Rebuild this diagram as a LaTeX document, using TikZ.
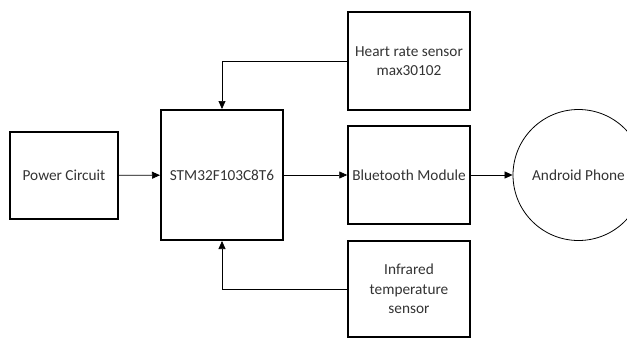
\documentclass[tikz,border=0pt]{standalone}
\usepackage{fontspec}
\setmainfont{Carlito}
\usetikzlibrary{arrows.meta}

\begin{document}
\begin{tikzpicture}
[
	x=1pt, y=1pt,
	block/.style={draw,line width=1.5pt,inner sep=0pt,align=center,text=black!80},
	mcu/.style={block,line width=2pt},
	phone/.style={circle,draw,line width=0.8pt,inner sep=0pt,minimum size=131pt,text=black!80},
	link/.style={line width=0.7pt,-{Triangle[length=8pt,width=7pt]}},
	every node/.style={font=\fontsize{15.3}{19.5}\selectfont}
]
	\useasboundingbox (0,0) rectangle (627,-338);

	% blocks
	\node[block,minimum width=108pt,minimum height=87pt] (power) at (64,-175.5) {Power Circuit};
	\node[mcu,minimum width=122pt,minimum height=130pt] (stm) at (222,-175) {STM32F103C8T6};
	\node[block,minimum width=122pt,minimum height=98pt] (heart) at (409,-61) {Heart rate sensor\\ max30102};
	\node[block,minimum width=122pt,minimum height=98pt] (bt) at (409,-175) {Bluetooth Module};
	\node[block,minimum width=122pt,minimum height=96pt] (ir) at (409,-289) {Infrared\\ temperature\\ sensor};
	\node[phone] (android) at (578.5,-175) {Android Phone};

	% connections
	\draw[link] (power) -- (stm);
	\draw[link] (stm) -- (bt);
	\draw[link] (bt) -- (android);
	\draw[link] (heart.west) -| (stm.north);
	\draw[link] (ir.west) -| (stm.south);

\end{tikzpicture}
\end{document}
